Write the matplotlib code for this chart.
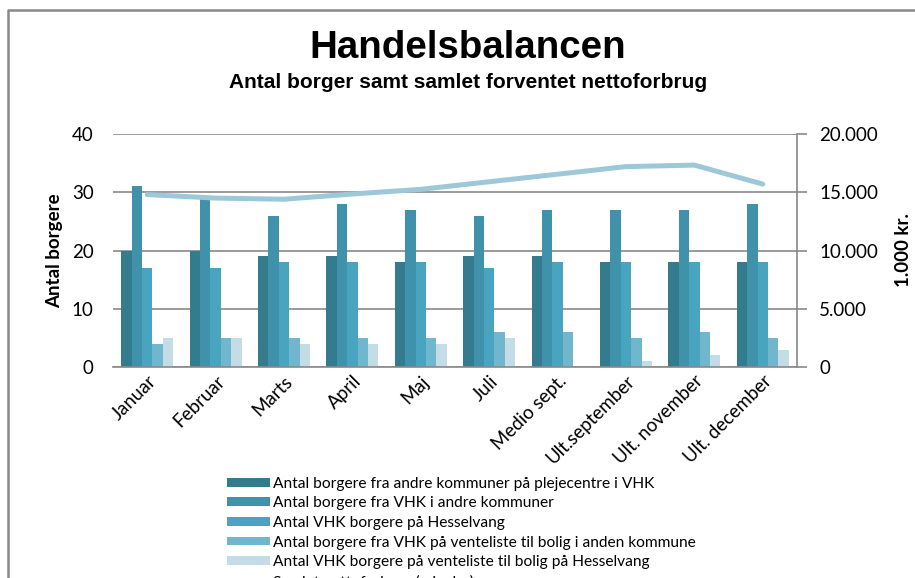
# Handelsbalancen - antal borgere (bars) and samlet nettoforbrug (line)

import numpy as np
import matplotlib.pyplot as plt
from matplotlib.lines import Line2D

# Data
maaneder = ['Januar', 'Februar', 'Marts', 'April', 'Maj', 'Juli',
            'Medio sept.', 'Ult.september', 'Ult. november', 'Ult. december']

andre_kom_plejecentre = [20, 20, 19, 19, 18, 19, 19, 18, 18, 18]
vhk_i_andre_kom = [31, 29, 26, 28, 27, 26, 27, 27, 27, 28]
vhk_hesselvang = [17, 17, 18, 18, 18, 17, 18, 18, 18, 18]
venteliste_anden_kom = [4, 5, 5, 5, 5, 6, 6, 5, 6, 5]
venteliste_hesselvang = [5, 5, 4, 4, 4, 5, 0, 1, 2, 3]

nettoforbrug = [14800, 14500, 14400, 14850, 15250, 15900, 16550, 17200, 17330, 15700]

serie_navne = ['Antal borgere fra andre kommuner på plejecentre i VHK',
               'Antal borgere fra VHK i andre kommuner',
               'Antal VHK borgere på Hesselvang',
               'Antal borgere fra VHK på venteliste til bolig i anden kommune',
               'Antal VHK borgere på venteliste til bolig på Hesselvang']
linje_navn = 'Samlet nettoforbrug (mio. kr.)'

farver = ['#357B8E', '#4091AA', '#49A4BF', '#70B6CD', '#C3DCE6']
linje_farve = '#9DC8D8'
grid_farve = '#898989'

tick_font = 'Lato'

fig = plt.figure(figsize=(9.15, 5.78), dpi=100)
ax = fig.add_axes([113 / 915, 1 - 367 / 578, (797 - 113) / 915, (367 - 134) / 578])

x = np.arange(len(maaneder))
w = 0.152
serier = [andre_kom_plejecentre, vhk_i_andre_kom, vhk_hesselvang,
          venteliste_anden_kom, venteliste_hesselvang]
for i, (vals, navn, farve) in enumerate(zip(serier, serie_navne, farver)):
    ax.bar(x + (i - 2) * w, vals, width=w, color=farve, label=navn, zorder=2)

ax.set_xlim(-0.5, len(maaneder) - 0.5)
ax.set_ylim(0, 40)
ax.set_yticks([0, 10, 20, 30, 40])
ax.yaxis.grid(True, color=grid_farve, linewidth=1.2, zorder=0)
ax.set_axisbelow(True)
for s in ['top', 'left', 'right']:
    ax.spines[s].set_visible(False)
ax.spines['bottom'].set_color(grid_farve)
ax.spines['bottom'].set_linewidth(1.2)
ax.tick_params(axis='y', length=0, pad=14, labelsize=13.5, labelfontfamily=tick_font)
ax.tick_params(axis='x', length=0, pad=4)
ax.set_xticks(x)
ax.set_xticklabels(maaneder, rotation=45, ha='right', rotation_mode='anchor',
                   fontsize=13.5, family=tick_font)
ax.set_ylabel('Antal borgere', fontsize=13.5, fontweight='bold', family=tick_font,
              labelpad=6)

# Secondary axis with the line
ax2 = ax.twinx()
ax2.plot(x, nettoforbrug, color=linje_farve, linewidth=3.6, solid_capstyle='round',
         zorder=3)
ax2.set_ylim(0, 20000)
ax2.set_yticks([0, 5000, 10000, 15000, 20000])
ax2.set_yticklabels(['0', '5.000', '10.000', '15.000', '20.000'])
for s in ['top', 'left', 'bottom']:
    ax2.spines[s].set_visible(False)
ax2.spines['right'].set_color(grid_farve)
ax2.spines['right'].set_linewidth(1.2)
ax2.tick_params(axis='y', length=7, width=1.2, color=grid_farve, pad=9,
                labelsize=13.5, labelfontfamily=tick_font)
ax2.set_ylabel('1.000 kr.', fontsize=13.5, fontweight='bold', family=tick_font,
               labelpad=12)

# Titles
fig.text(468 / 915, 1 - 48 / 578, 'Handelsbalancen', ha='center', va='center',
         fontsize=27.7, fontweight='bold', family='Liberation Sans')
fig.text(468 / 915, 1 - 83 / 578, 'Antal borger samt samlet forventet nettoforbrug',
         ha='center', va='center', fontsize=15, fontweight='bold',
         family='Liberation Sans')

# Legend below the chart
handles, labels = ax.get_legend_handles_labels()
handles.append(Line2D([], [], color=linje_farve, linewidth=6))
labels.append(linje_navn)
fig.legend(handles, labels, loc='upper left', bbox_to_anchor=(219 / 915, 1 - 469 / 578),
           frameon=False, prop={'family': tick_font, 'size': 11.2},
           handlelength=2.8, handleheight=0.5, labelspacing=0.36,
           handletextpad=0.2, borderpad=0)

# Frame around chart area
fig.add_artist(Line2D([8 / 915, 8 / 915, 1], [0, 1 - 10 / 578, 1 - 10 / 578],
                      transform=fig.transFigure, color=grid_farve, linewidth=1.8))

plt.savefig('out.png', dpi=100)
